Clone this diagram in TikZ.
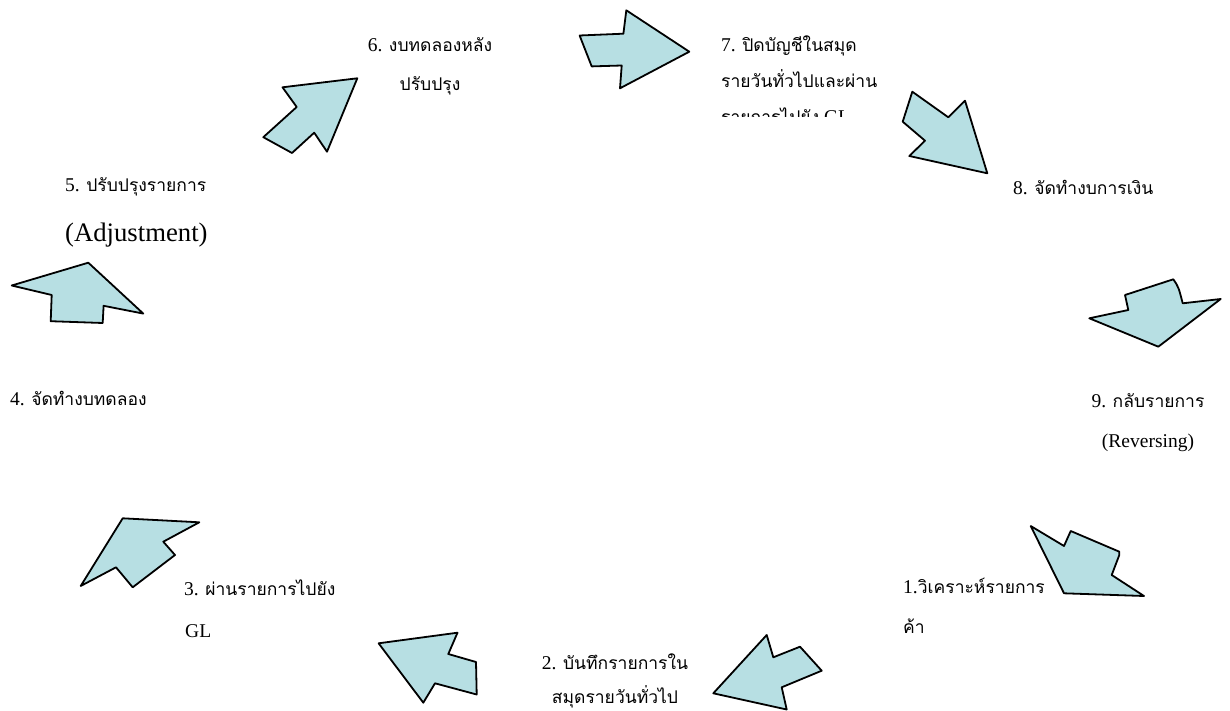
\documentclass[tikz,border=0pt]{standalone}
\usepackage{fontspec}
\setmainfont{Liberation Serif}
\newfontfamily\thaifont[Script=Thai]{Loma}
\newcommand\thtxt[1]{{\thaifont\fontsize{17.5}{20}\selectfont #1}}
\begin{document}
\begin{tikzpicture}[x=1pt,y=-1pt,
  cyclearrow/.style={fill=arrowfill,draw=black,line width=1.8pt,line join=round},
  lbl/.style={inner sep=0pt,font=\fontsize{19.5}{22}\selectfont},
  big/.style={inner sep=0pt,font=\fontsize{26.7}{30}\selectfont}]
\definecolor{arrowfill}{HTML}{B7DFE3}
\useasboundingbox (0,0) rectangle (1230,711);

% block arrows around the accounting cycle
\draw[cyclearrow] (282.5,87.3) -- (357.3,78.3) -- (327,151.7) -- (314.2,132.7) -- (292,153) -- (263.3,137.2) -- (296.7,107) -- cycle;
\draw[cyclearrow] (579.6,35.5) -- (623.4,33.7) -- (626.3,10.3) -- (689.3,51.7) -- (620,88.3) -- (621.7,65.5) -- (591.7,66.4) -- cycle;
\draw[cyclearrow] (912.3,91.7) -- (948.3,117.3) -- (965,100.7) -- (987.3,173.3) -- (909.3,156) -- (925,140.7) -- (902.7,121.7) -- cycle;
\draw[cyclearrow] (1089.3,318.3) -- (1128.3,310) -- (1125,295) -- (1173.3,279.3) .. controls (1178.5,287) .. (1182.7,303.3) -- (1220.7,299) -- (1158.3,346.7) -- cycle;
\draw[cyclearrow] (1030.7,526) -- (1064,546) -- (1070.7,531) -- (1119.3,551.7) -- (1119.3,555) -- (1111.7,575) -- (1144,596) -- (1064,593.3) -- cycle;
\draw[cyclearrow] (766.7,635) -- (773.3,657.3) -- (800,646.7) -- (821.7,670.7) -- (781.7,687.3) -- (786.7,709.5) -- (713.3,693.3) -- cycle;
\draw[cyclearrow] (378.6,643.3) -- (457.5,632.7) -- (448.3,654) -- (476,662) -- (476.7,694.5) -- (435,683.3) -- (423.3,702.7) -- cycle;
\draw[cyclearrow] (122.7,518.3) -- (199.3,522.3) -- (163.3,541.7) -- (175,555) -- (132.7,587.3) -- (116,567.3) -- (80.7,586) -- cycle;
\draw[cyclearrow] (11.7,285.5) -- (88.3,262.7) -- (143.3,313.6) -- (103.6,305.8) -- (102.7,323) -- (50.7,321.2) -- (51.7,295) -- cycle;

% step labels
\node[lbl,anchor=base] (s6a) at (430,52) {6. \thtxt{งบทดลองหลัง}};
\node[lbl,anchor=base] (s6b) at (430,91) {\thtxt{ปรับปรุง}};

\node[lbl,anchor=base west] (s7a) at (721,52) {7. \thtxt{ปิดบัญชีในสมุด}};
\node[lbl,anchor=base west] (s7b) at (721,88) {\thtxt{รายวันทั่วไปและผ่าน}};
\begin{scope}
  \clip (700,95) rectangle (900,117);
  \node[lbl,anchor=base west] (s7c) at (721,124) {\thtxt{รายการไปยัง} GL};
\end{scope}

\node[lbl,anchor=base west] (s8) at (1013,195) {8. \thtxt{จัดทำงบการเงิน}};

\node[lbl,anchor=base] (s9a) at (1148,407) {9. \thtxt{กลับรายการ}};
\node[lbl,anchor=base] (s9b) at (1148,447) {(Reversing)};

\node[lbl,anchor=base west] (s1a) at (903,593) {1.\thtxt{วิเคราะห์รายการ}};
\node[lbl,anchor=base west] (s1b) at (903,633) {\thtxt{ค้า}};

\node[lbl,anchor=base] (s2a) at (615,669) {2. \thtxt{บันทึกรายการใน}};
\node[lbl,anchor=base] (s2b) at (615,703) {\thtxt{สมุดรายวันทั่วไป}};

\node[lbl,anchor=base west] (s3a) at (184,595) {3. \thtxt{ผ่านรายการไปยัง}};
\node[lbl,anchor=base west] (s3b) at (185,637) {GL};

\node[lbl,anchor=base west] (s4) at (10,405) {4. \thtxt{จัดทำงบทดลอง}};

\node[lbl,anchor=base west] (s5a) at (65,192) {5. \thtxt{ปรับปรุงรายการ}};
\node[big,anchor=base west] (s5b) at (65,241) {(Adjustment)};
\end{tikzpicture}
\end{document}
